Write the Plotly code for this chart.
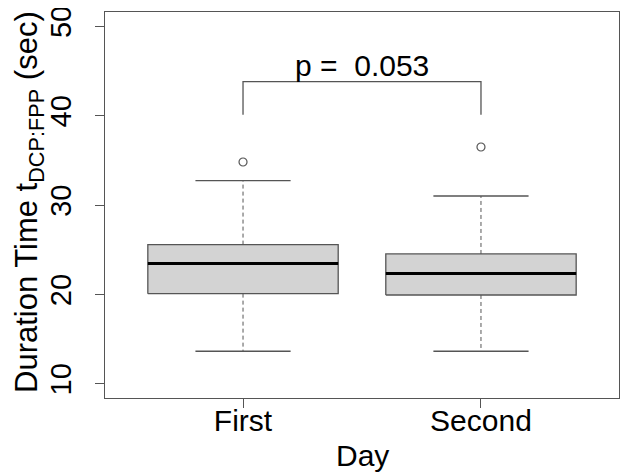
import plotly.graph_objects as go

categories = ["First", "Second"]
q1 = [20.08, 19.93]
median = [23.44, 22.32]
q3 = [25.57, 24.52]
lower_whisker = [13.63, 13.63]
upper_whisker = [32.73, 31.01]
outliers = [[34.81], [36.49]]
bracket_low = 40.1
bracket_high = 43.8
p_label = "p = \u00a00.053"
y_ticks = [10, 20, 30, 40, 50]
x_title = "Day"
y_title = "Duration Time t<sub>DCP:FPP</sub> (sec)"

FONT = "Liberation Sans, Arial, Helvetica, sans-serif"
LINE = "#555555"
BOX_HALF = 0.4
CAP_HALF = 0.2

fig = go.Figure()
for i, cat in enumerate(categories):
    x = i + 1
    fig.add_trace(go.Scatter(
        x=[x - BOX_HALF, x + BOX_HALF, x + BOX_HALF, x - BOX_HALF, x - BOX_HALF],
        y=[q1[i], q1[i], q3[i], q3[i], q1[i]],
        mode="lines", fill="toself", fillcolor="#D3D3D3",
        line=dict(color=LINE, width=1.3), hoverinfo="skip", showlegend=False))
    fig.add_trace(go.Scatter(
        x=[x - BOX_HALF, x + BOX_HALF], y=[median[i], median[i]],
        mode="lines", line=dict(color="black", width=3), showlegend=False))
    fig.add_trace(go.Scatter(
        x=[x, x, None, x, x], y=[q3[i], upper_whisker[i], None, q1[i], lower_whisker[i]],
        mode="lines", line=dict(color=LINE, width=1, dash="4px,3px"), showlegend=False))
    fig.add_trace(go.Scatter(
        x=[x - CAP_HALF, x + CAP_HALF, None, x - CAP_HALF, x + CAP_HALF],
        y=[upper_whisker[i], upper_whisker[i], None, lower_whisker[i], lower_whisker[i]],
        mode="lines", line=dict(color=LINE, width=1.3), showlegend=False))
    fig.add_trace(go.Scatter(
        x=[x] * len(outliers[i]), y=outliers[i], mode="markers",
        marker=dict(symbol="circle-open", size=8, color=LINE, line=dict(width=1.2)),
        showlegend=False))

fig.add_trace(go.Scatter(
    x=[1, 1, 2, 2], y=[bracket_low, bracket_high, bracket_high, bracket_low],
    mode="lines", line=dict(color=LINE, width=1.3), showlegend=False))
fig.add_annotation(x=1.5, y=bracket_high, text=p_label, showarrow=False,
                   yanchor="bottom", yshift=-2, font=dict(family=FONT, size=30, color="black"))

# axis titles
fig.add_annotation(xref="paper", yref="paper", x=0.5, y=0, text=x_title, showarrow=False,
                   xanchor="center", yanchor="middle", yshift=-57,
                   font=dict(family=FONT, size=30, color="black"))
fig.add_annotation(xref="paper", yref="paper", x=0, y=0.5, text=y_title, showarrow=False,
                   textangle=-90, xanchor="center", yanchor="middle", xshift=-76, yshift=3,
                   font=dict(family=FONT, size=31, color="black"))

# the page body adds an 8px offset, so the figure is sized to fit inside the window
fig.update_layout(
    width=621, height=465,
    margin=dict(l=97, r=10, t=4, b=75, autoexpand=False),
    paper_bgcolor="white", plot_bgcolor="white",
    font=dict(family=FONT, size=30, color="black"),
    showlegend=False,
)
fig.update_xaxes(
    range=[0.42, 2.58], tickvals=[1, 2], ticktext=categories, automargin=False,
    showgrid=False, zeroline=False, showline=True, linecolor=LINE, linewidth=1.3, mirror=True,
    ticks="outside", ticklen=9, tickcolor=LINE, tickwidth=1.3,
    tickfont=dict(size=30), ticklabelstandoff=-13, ticklabeloverflow="allow",
)
fig.update_yaxes(
    range=[8.4, 51.6], tickvals=y_ticks, ticktext=[str(v) for v in y_ticks], automargin=False,
    showgrid=False, zeroline=False, showline=True, linecolor=LINE, linewidth=1.3, mirror=True,
    ticks="outside", ticklen=9, tickcolor=LINE, tickwidth=1.3, tickangle=-90,
    tickfont=dict(size=29), ticklabelstandoff=12, ticklabeloverflow="allow",
)

fig.write_html("out.html")
